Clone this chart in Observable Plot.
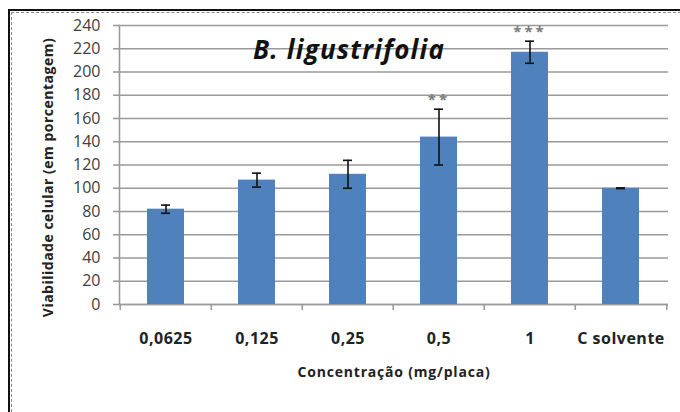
<!DOCTYPE html>
<html>
<head>
<meta charset="utf-8">
<script src="https://cdn.jsdelivr.net/npm/d3@7"></script>
<script src="https://cdn.jsdelivr.net/npm/@observablehq/plot@0.6"></script>
<style>
  html, body { margin: 0; padding: 0; background: #fff; }
  #wrap { position: relative; width: 680px; height: 412px; overflow: hidden; font-family: "Open Sans", sans-serif; }
  .deco { position: absolute; pointer-events: none; }
  #blackL { left: 8px; top: 9px; width: 2px; height: 410px; background: #111; }
  #blackT { left: 8px; top: 9px; width: 680px; height: 2px; background: #111; }
  #dashL { left: 11px; top: 12px; width: 0; height: 400px; border-left: 1px dashed #8a8a8a; }
  #dashT { left: 11px; top: 12px; width: 670px; height: 0; border-top: 1px dashed #8a8a8a; }
</style>
</head>
<body>
<div id="wrap"></div>
<script>
const categories = ["0,0625", "0,125", "0,25", "0,5", "1", "C solvente"];
const values = [82, 107, 112, 144, 217, 100];
const errors = [3.5, 6, 12, 24, 9.5, 0.3];
const stars = ["", "", "", "**", "***", ""];
const yTicks = [0, 20, 40, 60, 80, 100, 120, 140, 160, 180, 200, 220, 240];
const title = "B. ligustrifolia";
const yLabel = "Viabilidade celular (em porcentagem)";
const xLabel = "Concentração (mg/placa)";

const data = categories.map((c, i) => ({cat: c, value: values[i], err: errors[i], stars: stars[i]}));

const W = 680, H = 412, ML = 119, MR = 12, MT = 25, MB = 108;
const step = (W - ML - MR) / categories.length;

const chart = Plot.plot({
  width: W, height: H,
  marginLeft: ML, marginRight: MR, marginTop: MT, marginBottom: MB,
  style: {fontFamily: "'Open Sans', sans-serif", fontSize: "16px", background: "transparent"},
  x: {domain: categories, paddingInner: 0.59, paddingOuter: 0.295, label: null},
  y: {domain: [0, 240], label: null},
  marks: [
    Plot.gridY(yTicks, {stroke: "#9a9a9a", strokeOpacity: 1, strokeWidth: 1.6}),
    Plot.ruleY([0], {stroke: "#9a9a9a", strokeWidth: 1.6}),
    Plot.frame({anchor: "left", stroke: "#9a9a9a", strokeWidth: 1.6}),
    Plot.axisY(yTicks, {tickSize: 6, tickPadding: 13, stroke: "#9a9a9a", strokeWidth: 1.6, fill: "#404040", fontSize: 16, label: null}),
    Plot.ruleX(categories, {x: d => d, y1: 0, y2: 0, insetBottom: -6, dx: -step / 2, stroke: "#9a9a9a", strokeWidth: 1.6}),
    Plot.ruleX(categories.slice(-1), {x: d => d, y1: 0, y2: 0, insetBottom: -6, dx: step / 2, stroke: "#9a9a9a", strokeWidth: 1.6}),
    Plot.axisX({tickSize: 0, tickPadding: 28, fontSize: 16, fontWeight: "bold", fill: "#222", label: null}),
    Plot.barY(data, {x: "cat", y: "value", fill: "#4f81bd"}),
    Plot.ruleX(data, {x: "cat", y1: d => d.value - d.err, y2: d => d.value + d.err, stroke: "#111", strokeWidth: 1.6}),
    Plot.tickY(data, {x: "cat", y: d => d.value + d.err, insetLeft: 14, insetRight: 14, stroke: "#111", strokeWidth: 1.6}),
    Plot.tickY(data, {x: "cat", y: d => d.value - d.err, insetLeft: 14, insetRight: 14, stroke: "#111", strokeWidth: 1.6}),
    Plot.text(data.filter(d => d.stars), {x: "cat", y: d => d.value + d.err, text: "stars", dy: -9, fill: "#7a7a7a", fontSize: 15, fontWeight: "bold"}),
    Plot.text([title], {frameAnchor: "top", dx: -45, dy: 25, lineAnchor: "middle", fontSize: 26, fontWeight: "bold", fontStyle: "italic", fill: "#111"}),
    Plot.text([yLabel], {frameAnchor: "left", textAnchor: "middle", dx: -71, dy: 12.5, rotate: -90, fontSize: 14, fontWeight: "bold", fill: "#222"}),
    Plot.text([xLabel], {frameAnchor: "bottom", dy: 72, fontSize: 14, fontWeight: "bold", fill: "#222"})
  ]
});

const wrap = document.getElementById("wrap");
wrap.appendChild(chart);
// letter-spacing / size tweaks
const spacing = new Map([[title, "1.2px"], [xLabel, "0.8px"], [yLabel, "0.5px"], ["**", "3px"], ["***", "3px"]]);
for (const c of categories) spacing.set(c, "0.5px");
const yTickText = new Set(yTicks.map(String));
d3.select(chart).selectAll("text").each(function() {
  const t = this.textContent;
  if (spacing.has(t)) this.style.letterSpacing = spacing.get(t);
  if (yTickText.has(t)) { this.style.fontSize = "16px"; this.style.fontWeight = "normal"; }
});
for (const id of ["blackL", "blackT", "dashL", "dashT"]) {
  const d = document.createElement("div");
  d.className = "deco";
  d.id = id;
  wrap.appendChild(d);
}
</script>
</body>
</html>
